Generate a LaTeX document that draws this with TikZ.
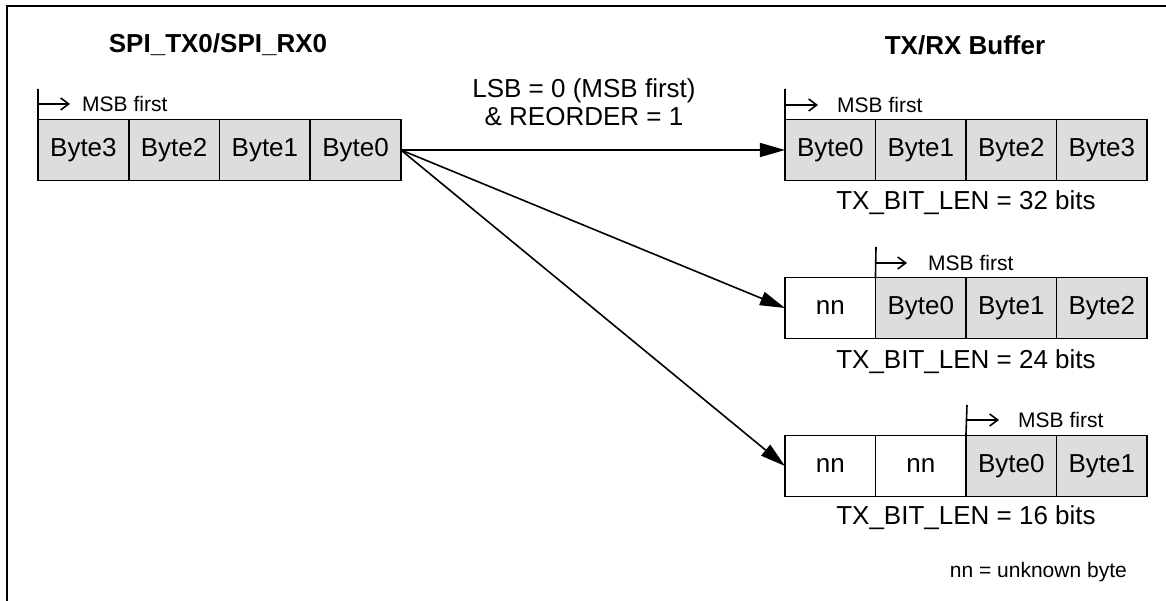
\documentclass[tikz,border=0pt]{standalone}
\usepackage{fontspec}
\setmainfont{Liberation Sans}
\usetikzlibrary{arrows.meta}
\definecolor{cellgray}{RGB}{221,221,221}
\begin{document}
\begin{tikzpicture}[x=1pt,y=-1pt,
  cell/.style={draw, line width=1.8pt, minimum width=90.7pt, minimum height=61pt, inner sep=0pt, outer sep=0pt, font=\fontsize{26}{30}\selectfont},
  fullcell/.style={cell, fill=cellgray},
  emptycell/.style={cell, fill=white},
  lbl/.style={font=\fontsize{26}{30}\selectfont, inner sep=0pt},
  smalllbl/.style={font=\fontsize{21}{25}\selectfont, inner sep=0pt},
  titlelbl/.style={font=\bfseries\fontsize{26}{30}\selectfont, inner sep=0pt},
  conn/.style={line width=1.6pt, -{Triangle[length=25pt,width=14pt]}},
  msbline/.style={line width=1.6pt},
  msbarrow/.style={line width=1.6pt, -{Straight Barb[length=8pt,width=12pt]}}]
\useasboundingbox (0,0) rectangle (1166,601);
\fill[white] (0,0) rectangle (1166,601);
\draw[line width=2.3pt] (7,605) -- (7,6) -- (1170,6);

% titles
\node[titlelbl] (tl) at (218,45) {SPI\_TX0/SPI\_RX0};
\node[titlelbl] (tr) at (965,45) {TX/RX Buffer};

% left register
\node[fullcell] (s3) at (83.4,150) {Byte3};
\node[fullcell] (s2) at (174.1,150) {Byte2};
\node[fullcell] (s1) at (264.9,150) {Byte1};
\node[fullcell] (s0) at (355.6,150) {Byte0};
\coordinate (ms) at (38,89);
\coordinate (msa) at (38,104);
\coordinate (msb) at (70,104);
\draw[msbline] (ms) -- (s3.north west);
\draw[msbarrow] (msa) -- (msb);
\node[smalllbl, anchor=west] (mst) at (82,104) {MSB first};

% buffer 32
\node[fullcell] (a0) at (830.3,150) {Byte0};
\node[fullcell] (a1) at (920.8,150) {Byte1};
\node[fullcell] (a2) at (1011.3,150) {Byte2};
\node[fullcell] (a3) at (1101.8,150) {Byte3};
\coordinate (ma) at (785,89);
\coordinate (maa) at (785,105);
\coordinate (mab) at (818,105);
\draw[msbline] (ma) -- (a0.north west);
\draw[msbarrow] (maa) -- (mab);
\node[smalllbl, anchor=west] (mat) at (837,105) {MSB first};
\node[lbl] (la) at (966,203) {TX\_BIT\_LEN = 32 bits};

% buffer 24
\node[emptycell] (bn) at (830.3,308) {nn};
\node[fullcell] (b0) at (920.8,308) {Byte0};
\node[fullcell] (b1) at (1011.3,308) {Byte1};
\node[fullcell] (b2) at (1101.8,308) {Byte2};
\coordinate (mb) at (876,247);
\coordinate (mba) at (876,263);
\coordinate (mbb) at (907,263);
\draw[msbline] (mb) -- (b0.north west);
\draw[msbarrow] (mba) -- (mbb);
\node[smalllbl, anchor=west] (mbt) at (928,263) {MSB first};
\node[lbl] (lb) at (966,362) {TX\_BIT\_LEN = 24 bits};

% buffer 16
\node[emptycell] (cn1) at (830.3,466) {nn};
\node[emptycell] (cn2) at (920.8,466) {nn};
\node[fullcell] (c0) at (1011.3,466) {Byte0};
\node[fullcell] (c1) at (1101.8,466) {Byte1};
\coordinate (mc) at (967,405);
\coordinate (mca) at (967,420);
\coordinate (mcb) at (999,420);
\draw[msbline] (mc) -- (c0.north west);
\draw[msbarrow] (mca) -- (mcb);
\node[smalllbl, anchor=west] (mct) at (1018,420) {MSB first};
\node[lbl] (lc) at (966,518) {TX\_BIT\_LEN = 16 bits};

\node[smalllbl, anchor=east] (note) at (1127,572) {nn = unknown byte};

% connectors
\draw[conn] (s0.east) -- (a0.west);
\draw[conn] (s0.east) -- (bn.west);
\draw[conn] (s0.east) -- (cn1.west);
\node[lbl, align=center] (cond) at (584,102) {LSB = 0 (MSB first)\\[-2pt] \& REORDER = 1};
\end{tikzpicture}
\end{document}
